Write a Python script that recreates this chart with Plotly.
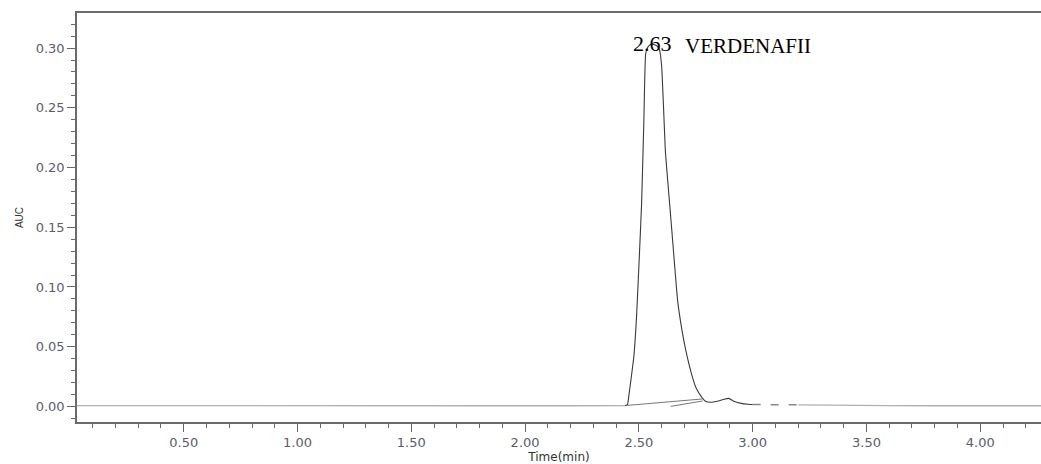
import plotly.graph_objects as go

# Baseline signal before the peak (min, AUC)
base_time = [0.03, 0.30, 0.60, 1.00, 1.40, 1.80, 2.20, 2.44]
base_auc = [0.0006, 0.0005, 0.0006, 0.0005, 0.0006, 0.0005, 0.0005, 0.0006]

# Peak region signal
peak_time = [2.440, 2.450, 2.456, 2.465, 2.478, 2.490, 2.503, 2.512, 2.522, 2.530,
             2.540, 2.552, 2.565, 2.578, 2.590, 2.600, 2.617, 2.635, 2.650, 2.670,
             2.690, 2.706, 2.730, 2.750, 2.775, 2.795, 2.820, 2.850, 2.875, 2.895,
             2.920, 2.950, 2.980, 3.000]
peak_auc = [0.0006, 0.0015, 0.009, 0.022, 0.042, 0.076, 0.130, 0.170, 0.240, 0.2955,
            0.301, 0.303, 0.303, 0.302, 0.299, 0.285, 0.212, 0.170, 0.135, 0.089,
            0.063, 0.047, 0.028, 0.016, 0.008, 0.004, 0.0035, 0.0045, 0.006, 0.0067,
            0.004, 0.0025, 0.0018, 0.0015]

# Broken (dashed-looking) stretch just after the peak
gap_time = [3.00, 3.10, 3.20]
gap_auc = [0.0015, 0.0014, 0.0013]

# Tail after the peak
tail_time = [3.20, 3.40, 3.60, 3.80, 4.00, 4.27]
tail_auc = [0.0013, 0.0008, 0.0006, 0.0005, 0.0005, 0.0005]

# Integration baselines
int1_time = [2.45, 2.78]
int1_auc = [0.0008, 0.0062]
int2_time = [2.64, 2.78]
int2_auc = [0.0000, 0.0045]

x_ticks = [0.5, 1.0, 1.5, 2.0, 2.5, 3.0, 3.5, 4.0]
y_ticks = [0.00, 0.05, 0.10, 0.15, 0.20, 0.25, 0.30]

peak_rt_label = "2.63"
peak_name = "VERDENAFII"

fig = go.Figure()
fig.add_trace(go.Scatter(x=base_time, y=base_auc, mode="lines",
                         line=dict(color="#b0b0b0", width=1.3), hoverinfo="skip"))
fig.add_trace(go.Scatter(x=gap_time, y=gap_auc, mode="lines",
                         line=dict(color="#888888", width=1.5, dash="8px,10px"), hoverinfo="skip"))
fig.add_trace(go.Scatter(x=tail_time, y=tail_auc, mode="lines",
                         line=dict(color="#b0b0b0", width=1.3), hoverinfo="skip"))
fig.add_trace(go.Scatter(x=peak_time, y=peak_auc, mode="lines",
                         line=dict(color="#3a3a3a", width=1.1, shape="spline", smoothing=0.4)))
fig.add_trace(go.Scatter(x=int1_time, y=int1_auc, mode="lines",
                         line=dict(color="#777777", width=1)))
fig.add_trace(go.Scatter(x=int2_time, y=int2_auc, mode="lines",
                         line=dict(color="#777777", width=1)))

fig.add_annotation(x=2.56, y=0.3035, text=peak_rt_label, showarrow=False,
                   xanchor="center", yanchor="middle",
                   font=dict(family="Liberation Serif", size=22, color="#000000"))
fig.add_annotation(x=2.692, y=0.3015, text=peak_name, showarrow=False,
                   xanchor="left", yanchor="middle",
                   font=dict(family="Liberation Serif", size=21, color="#000000"))

axis_font = dict(family="DejaVu Sans", size=13, color="#595d68")

fig.update_layout(
    width=1041, height=464,
    margin=dict(l=77, r=0, t=13, b=42),
    paper_bgcolor="white", plot_bgcolor="white",
    showlegend=False,
    xaxis=dict(
        range=[0.031, 4.267],
        tickvals=x_ticks, tickformat=".2f",
        ticks="outside", ticklen=8, tickwidth=1, tickcolor="#666666",
        minor=dict(dtick=0.1, tick0=0, ticks="outside", ticklen=4, tickcolor="#666666"),
        showline=True, linecolor="#6a6a6a", linewidth=1.5, mirror=True,
        showgrid=False, zeroline=False,
        tickfont=axis_font,
        title=dict(text="Time(min)", font=dict(family="DejaVu Sans", size=12, color="#333333"),
                   standoff=2),
    ),
    yaxis=dict(
        range=[-0.0131, 0.3294],
        tickvals=y_ticks, tickformat=".2f",
        ticks="outside", ticklen=8, tickwidth=1, tickcolor="#666666",
        minor=dict(dtick=0.01, tick0=0, ticks="outside", ticklen=4, tickcolor="#666666"),
        showline=True, linecolor="#6a6a6a", linewidth=1.5,
        showgrid=False, zeroline=False,
        tickfont=axis_font,
        title=dict(text="AUC", font=dict(family="Liberation Sans", size=10, color="#333333"),
                   standoff=10),
    ),
)

fig.write_html("out.html")
